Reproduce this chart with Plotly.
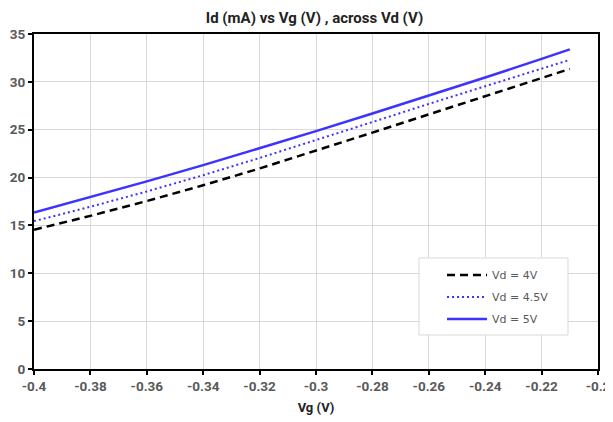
import plotly.graph_objects as go

vg = [-0.40, -0.38, -0.36, -0.34, -0.32, -0.30, -0.28, -0.26, -0.24, -0.22, -0.21]
id_vd4 = [14.55, 16.0, 17.55, 19.2, 20.95, 22.8, 24.7, 26.6, 28.5, 30.45, 31.35]
id_vd45 = [15.45, 16.95, 18.55, 20.25, 22.05, 23.9, 25.8, 27.7, 29.55, 31.35, 32.3]
id_vd5 = [16.35, 17.95, 19.6, 21.3, 23.05, 24.85, 26.7, 28.55, 30.45, 32.4, 33.4]

x_tickvals = [-0.4, -0.38, -0.36, -0.34, -0.32, -0.3, -0.28, -0.26, -0.24, -0.22, -0.2]
x_ticktext = ["-0.4", "-0.38", "-0.36", "-0.34", "-0.32", "-0.3", "-0.28", "-0.26", "-0.24", "-0.22", "-0.2"]
y_tickvals = [0, 5, 10, 15, 20, 25, 30, 35]

BLUE = "#3d32ff"

fig = go.Figure()
fig.add_trace(go.Scatter(x=vg, y=id_vd4, mode="lines", name="Vd = 4V", legendgroup="a",
                         line=dict(color="black", width=2.5, dash="8px,5px")))
fig.add_trace(go.Scatter(x=vg, y=id_vd45, mode="lines", name="Vd = 4.5V", legendgroup="b",
                         line=dict(color=BLUE, width=2, dash="2px,3px")))
fig.add_trace(go.Scatter(x=vg, y=id_vd5, mode="lines", name="Vd = 5V", legendgroup="c",
                         line=dict(color=BLUE, width=2.5)))

# legend frame
fig.add_shape(type="rect", xref="paper", yref="paper",
              x0=0.6826, x1=0.9468, y0=0.1015, y1=0.3313,
              fillcolor="white", line=dict(color="#d9d9d9", width=1), layer="above")

fig.update_layout(
    width=613, height=422,
    margin=dict(l=26, r=23, t=26, b=61),
    paper_bgcolor="white", plot_bgcolor="white",
    title=dict(text="Id (mA) vs Vg (V) , across Vd (V)", x=0.5, xanchor="center",
               y=0.977, yanchor="middle",
               font=dict(family="Roboto", size=15, color="#222222", weight="bold")),
    font=dict(family="Roboto", size=12, color="#595959"),
    showlegend=True,
    legend=dict(x=0.7234, y=0.2149, xanchor="left", yanchor="middle",
                bgcolor="rgba(0,0,0,0)", borderwidth=0,
                itemwidth=40, traceorder="grouped", tracegroupgap=3,
                font=dict(family="DejaVu Sans", size=11, color="#595959")),
)
fig.update_xaxes(range=[-0.4, -0.2], tickvals=x_tickvals, ticktext=x_ticktext,
                 automargin=False,
                 showline=True, linecolor="black", linewidth=2, mirror=True,
                 ticks="outside", ticklen=4, tickwidth=1.5, tickcolor="black",
                 showgrid=True, gridcolor="#d9d9d9", gridwidth=1, zeroline=False,
                 tickfont=dict(family="Roboto", size=13.5, color="#595959", weight="bold"),
                 title=dict(text="Vg (V)", standoff=10,
                            font=dict(family="Roboto", size=13, color="#222222", weight="bold")))
fig.update_yaxes(range=[0, 35], tickvals=y_tickvals,
                 automargin=False,
                 showline=True, linecolor="black", linewidth=2, mirror=True,
                 ticks="outside", ticklen=4, tickwidth=1.5, tickcolor="black",
                 showgrid=True, gridcolor="#d9d9d9", gridwidth=1, zeroline=False,
                 tickfont=dict(family="Roboto", size=13.5, color="#595959", weight="bold"))

fig.write_html("out.html")
